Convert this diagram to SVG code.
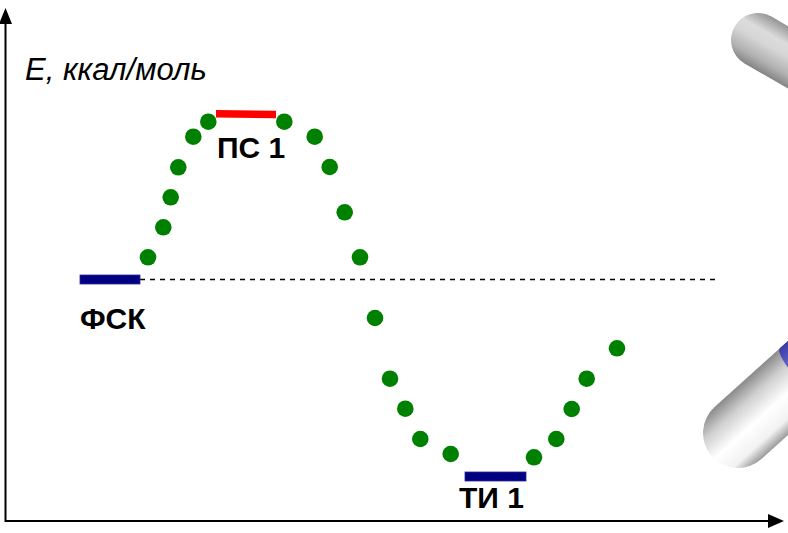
<svg xmlns="http://www.w3.org/2000/svg" width="788" height="533" viewBox="0 0 788 533">
  <style>
    .axis { stroke: #000; stroke-width: 2; fill: none; }
    .head { fill: #000; }
    .dash { stroke: #000; stroke-width: 1.5; stroke-dasharray: 5 5; fill: none; }
    .dot { fill: #008000; }
    .lbl { font-family: "Liberation Sans", Arial, sans-serif; font-weight: bold; font-size: 30px; fill: #000; }
    .ylbl { font-family: "Liberation Sans", Arial, sans-serif; font-style: italic; font-size: 31px; fill: #000; }
    .ground { fill: #000080; stroke: #2a2a9a; stroke-width: 0.8; }
    .ts { fill: #ff0000; }
  </style>
  <defs>
    <circle id="pt" r="8.3"/>
    <!-- cylinder shading across the capsule width -->
    <linearGradient id="grayTube" gradientUnits="userSpaceOnUse" x1="0" y1="-27" x2="0" y2="27">
      <stop offset="0" stop-color="#959595"/>
      <stop offset="0.3" stop-color="#dcdcdc"/>
      <stop offset="0.5" stop-color="#d6d6d6"/>
      <stop offset="0.8" stop-color="#b0b0b0"/>
      <stop offset="1" stop-color="#848484"/>
    </linearGradient>
    <linearGradient id="whiteTube" gradientUnits="userSpaceOnUse" x1="0" y1="-35" x2="0" y2="35">
      <stop offset="0" stop-color="#8a8a8a"/>
      <stop offset="0.25" stop-color="#d0d0d0"/>
      <stop offset="0.55" stop-color="#ffffff"/>
      <stop offset="0.82" stop-color="#f2f2f2"/>
      <stop offset="1" stop-color="#9a9a9a"/>
    </linearGradient>
    <linearGradient id="blueTube" gradientUnits="userSpaceOnUse" x1="0" y1="-35" x2="0" y2="35">
      <stop offset="0" stop-color="#3a3aa8"/>
      <stop offset="0.5" stop-color="#8a8ae8"/>
      <stop offset="1" stop-color="#4444b0"/>
    </linearGradient>
  </defs>

  <!-- upper gray capsule -->
  <g id="capsule-top" transform="translate(758 40) rotate(30)">
    <rect x="-27" y="-27" width="200" height="54" rx="27" fill="url(#grayTube)"/>
  </g>

  <!-- lower white capsule with blue band -->
  <g id="capsule-bottom" transform="translate(738 433) rotate(-42)">
    <rect x="-35" y="-35" width="240" height="70" rx="35" fill="url(#whiteTube)"/>
    <path d="M88,-35 A8 35 0 0 0 88 35 L220 35 L220 -35 Z" fill="url(#blueTube)"/>
  </g>

  <!-- axes -->
  <g id="axes">
    <path class="axis" d="M5.5,22 V521 H770"/>
    <polygon class="head" points="5.5,8 -1,24 12,24"/>
    <polygon class="head" points="784,521 768,514 768,528"/>
    <text class="ylbl" x="25" y="80">E, ккал/моль</text>
  </g>

  <!-- reference level -->
  <g id="connectors">
    <line class="dash" x1="140" y1="279.5" x2="717" y2="279.5"/>
  </g>

  <!-- energy profile points -->
  <g id="profile" class="dot">
    <use href="#pt" x="148" y="257.3"/>
    <use href="#pt" x="163.3" y="227.3"/>
    <use href="#pt" x="170.7" y="197.3"/>
    <use href="#pt" x="178.3" y="167.3"/>
    <use href="#pt" x="193.3" y="136.7"/>
    <use href="#pt" x="208.3" y="121.7"/>
    <use href="#pt" x="284.3" y="121.7"/>
    <use href="#pt" x="314.7" y="136.7"/>
    <use href="#pt" x="329.7" y="167"/>
    <use href="#pt" x="344.7" y="212.3"/>
    <use href="#pt" x="360" y="257.3"/>
    <use href="#pt" x="375" y="318"/>
    <use href="#pt" x="390" y="378.7"/>
    <use href="#pt" x="405.3" y="408.7"/>
    <use href="#pt" x="420.3" y="439"/>
    <use href="#pt" x="450.7" y="454"/>
    <use href="#pt" x="534" y="457.3"/>
    <use href="#pt" x="556.3" y="439"/>
    <use href="#pt" x="571.7" y="409"/>
    <use href="#pt" x="586.7" y="378.7"/>
    <use href="#pt" x="617" y="348.3"/>
  </g>

  <!-- stationary points -->
  <g id="fsk">
    <rect class="ground" x="80" y="275" width="60" height="9"/>
    <text class="lbl" x="80" y="329">ФСК</text>
  </g>
  <g id="ps1">
    <polygon class="ts" points="216,110 276,110.8 276,118.3 216,117.5"/>
    <text class="lbl" x="217" y="158">ПС 1</text>
  </g>
  <g id="ti1">
    <rect class="ground" x="465" y="472" width="61" height="9"/>
    <text class="lbl" x="459" y="508">ТИ 1</text>
  </g>
</svg>
